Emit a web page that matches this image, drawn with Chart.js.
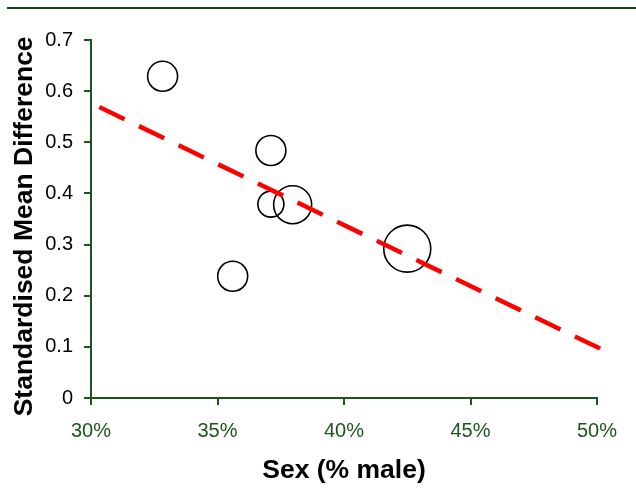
<!DOCTYPE html>
<html lang="en">
<head>
    <meta charset="UTF-8">
    <title>Standardised Mean Difference vs Sex</title>
    <script src="https://cdn.jsdelivr.net/npm/chart.js"></script>
    <style>
        body {
            margin: 0;
            padding: 0;
            background-color: white;
        }
        canvas {
            display: block;
        }
    </style>
</head>
<body>
    <canvas id="smdChart" width="636" height="495"></canvas>

    <script>
        // study points: sex (% male), standardised mean difference, bubble radius (px)
        const sexPercent = [32.83, 37.11, 37.11, 37.97, 35.6, 42.5];
        const smdValues = [0.629, 0.484, 0.379, 0.378, 0.238, 0.292];
        const bubbleSizes = [15, 15, 13, 19, 15, 23.5];

        // meta-regression line end points
        const trendX = [30.33, 50.19];
        const trendY = [0.569, 0.095];

        const xTickLabels = ["30%", "35%", "40%", "45%", "50%"];
        const yTickLabels = ["0", "0.1", "0.2", "0.3", "0.4", "0.5", "0.6", "0.7"];

        const axisGreen = "#1d561d";
        const fontFamily = "'Liberation Sans', Arial, sans-serif";

        const topRule = {
            id: "topRule",
            beforeDraw(chart) {
                const ctx = chart.ctx;
                ctx.save();
                ctx.fillStyle = "#0c4a0c";
                ctx.fillRect(7, 7, chart.width - 7, 2);
                ctx.restore();
            }
        };

        const bubbles = sexPercent.map((x, i) => ({ x: x, y: smdValues[i], r: bubbleSizes[i] }));
        const trendLine = trendX.map((x, i) => ({ x: x, y: trendY[i] }));

        new Chart(document.getElementById("smdChart").getContext("2d"), {
            type: "bubble",
            data: {
                datasets: [
                    {
                        type: "line",
                        data: trendLine,
                        borderColor: "#ff0000",
                        borderWidth: 4.5,
                        borderDash: [28, 16],
                        pointRadius: 0,
                        fill: false,
                        clip: false,
                        order: 0
                    },
                    {
                        data: bubbles,
                        backgroundColor: "rgba(0,0,0,0)",
                        borderColor: "#000000",
                        borderWidth: 1.6,
                        hoverRadius: 0,
                        order: 1
                    }
                ]
            },
            options: {
                responsive: false,
                animation: false,
                layout: {
                    padding: { top: 40, left: 0, right: 39, bottom: 0 }
                },
                plugins: {
                    legend: { display: false },
                    tooltip: { enabled: false }
                },
                scales: {
                    x: {
                        type: "linear",
                        min: 30,
                        max: 50,
                        afterFit: (scale) => { scale.height = 97; },
                        ticks: {
                            stepSize: 5,
                            padding: 14,
                            color: axisGreen,
                            font: { family: fontFamily, size: 20 },
                            callback: (value) => xTickLabels[Math.round((value - 30) / 5)]
                        },
                        grid: {
                            drawOnChartArea: false,
                            drawTicks: true,
                            tickLength: 7,
                            color: axisGreen,
                            lineWidth: 2
                        },
                        border: { color: axisGreen, width: 2 },
                        title: {
                            display: true,
                            text: "Sex (% male)",
                            color: "#000000",
                            font: { family: fontFamily, size: 26.5, weight: "bold" },
                            padding: { top: 0, bottom: 8.8 }
                        }
                    },
                    y: {
                        min: 0,
                        max: 0.7,
                        afterFit: (scale) => { scale.width = 91; },
                        ticks: {
                            stepSize: 0.1,
                            padding: 11,
                            color: "#000000",
                            font: { family: fontFamily, size: 20 },
                            callback: (value) => yTickLabels[Math.round(value * 10)]
                        },
                        grid: {
                            drawOnChartArea: false,
                            drawTicks: true,
                            tickLength: 7,
                            color: axisGreen,
                            lineWidth: 2
                        },
                        border: { color: axisGreen, width: 2 },
                        title: {
                            display: true,
                            // trailing spaces nudge the rotated title a little lower, as in the original
                            text: "Standardised Mean Difference  ",
                            color: "#000000",
                            font: { family: fontFamily, size: 26.5, weight: "bold" },
                            padding: { top: 8.4, bottom: 0 }
                        }
                    }
                }
            },
            plugins: [topRule]
        });
    </script>
</body>
</html>
